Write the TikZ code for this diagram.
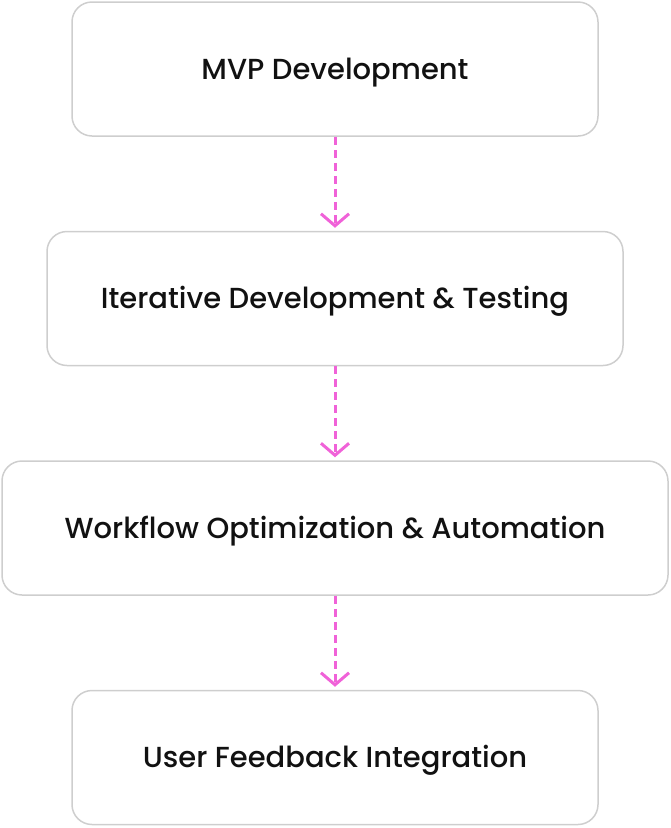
\documentclass[tikz,border=0pt]{standalone}
\usepackage{fontspec}
\setmainfont{Poppins}[UprightFont=* Medium]
\usetikzlibrary{arrows.meta,positioning}
\definecolor{FlowPink}{RGB}{240,98,216}
\definecolor{BoxGray}{RGB}{206,206,206}
\definecolor{TextInk}{RGB}{17,17,17}

\begin{document}
\begin{tikzpicture}[
    x=1pt, y=1pt,
    node distance=94pt,
    stagebox/.style={rectangle, draw=BoxGray, line width=1.5pt, rounded corners=20pt, minimum height=134pt, minimum width=#1, text=TextInk, text height=20pt, text depth=0pt, font=\fontsize{29}{32}\selectfont},
    flow/.style={-{Straight Barb[length=12pt, width=28pt]}, dash pattern=on 8pt off 5pt, draw=FlowPink, line width=3pt, shorten >=3pt}
]
    \useasboundingbox (0,0) rectangle (670,-828);

    \node[stagebox=526pt] (mvp) at (335,-69) {MVP Development};
    \node[stagebox=576pt, below=of mvp] (iter) {Iterative Development \& Testing};
    \node[stagebox=666pt, below=of iter] (auto) {Workflow Optimization \& Automation};
    \node[stagebox=526pt, below=of auto] (feed) {User Feedback Integration};

    \draw[flow] (mvp) -- (iter);
    \draw[flow] (iter) -- (auto);
    \draw[flow] (auto) -- (feed);
\end{tikzpicture}
\end{document}
